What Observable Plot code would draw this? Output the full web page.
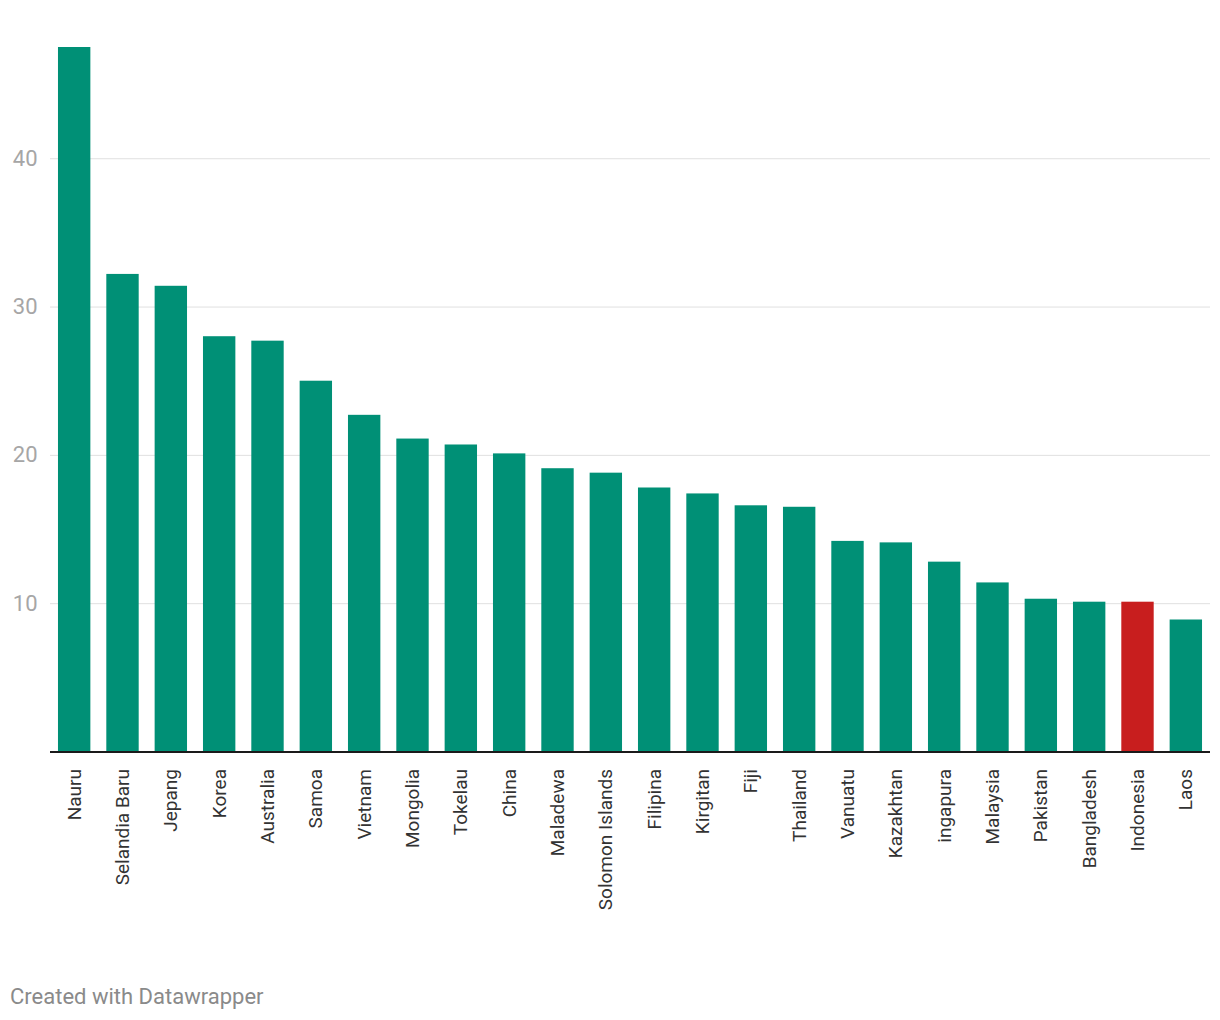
<!DOCTYPE html>
<html>
<head>
<meta charset="utf-8">
<script src="https://cdn.jsdelivr.net/npm/d3@7"></script>
<script src="https://cdn.jsdelivr.net/npm/@observablehq/plot@0.6"></script>
<style>
  body { margin: 0; background: #fff; font-family: Roboto, sans-serif; }
  #chart { width: 1220px; height: 960px; }
  .caption { font-family: Roboto, sans-serif; font-size: 22px; line-height: 26px; color: #8a8a8a; margin: 24px 0 0 10px; }
</style>
</head>
<body>
<div id="chart"></div>
<div class="caption">Created with Datawrapper</div>
<script>
const countries = ["Nauru","Selandia Baru","Jepang","Korea","Australia","Samoa","Vietnam","Mongolia","Tokelau","China","Maladewa","Solomon Islands","Filipina","Kirgitan","Fiji","Thailand","Vanuatu","Kazakhtan","ingapura","Malaysia","Pakistan","Bangladesh","Indonesia","Laos"];
const values = [47.5,32.2,31.4,28.0,27.7,25.0,22.7,21.1,20.7,20.1,19.1,18.8,17.8,17.4,16.6,16.5,14.2,14.1,12.8,11.4,10.3,10.1,10.1,8.9];
const highlight = ["Indonesia"];
const yTicks = [10, 20, 30, 40];

const data = countries.map((c, i) => ({country: c, value: values[i], hl: highlight.includes(c)}));

const chart = Plot.plot({
  width: 1220,
  height: 960,
  marginTop: 47,
  marginBottom: 208.5,
  marginLeft: 50,
  marginRight: 10,
  style: {fontFamily: "Roboto, sans-serif", background: "#fff", display: "block"},
  x: {domain: countries, paddingInner: 0.33, paddingOuter: 0.165, round: false, label: null},
  y: {domain: [0, 47.5], label: null},
  marks: [
    Plot.gridY(yTicks, {stroke: "#e0e0e0", strokeOpacity: 1, strokeWidth: 1}),
    Plot.barY(data, {x: "country", y: "value", fill: d => d.hl ? "#c81e1e" : "#009076"}),
    Plot.ruleY([0], {stroke: "#1a1a1a", strokeWidth: 2}),
    Plot.axisY(yTicks, {tickSize: 0, tickPadding: 13, fontSize: 22, fill: "#a6a6a6", label: null}),
    Plot.axisX({tickSize: 0, tickRotate: -90, tickPadding: 17, fontSize: 19, fill: "#333", label: null, textAnchor: "end"})
  ]
});
document.getElementById("chart").appendChild(chart);
</script>
</body>
</html>
